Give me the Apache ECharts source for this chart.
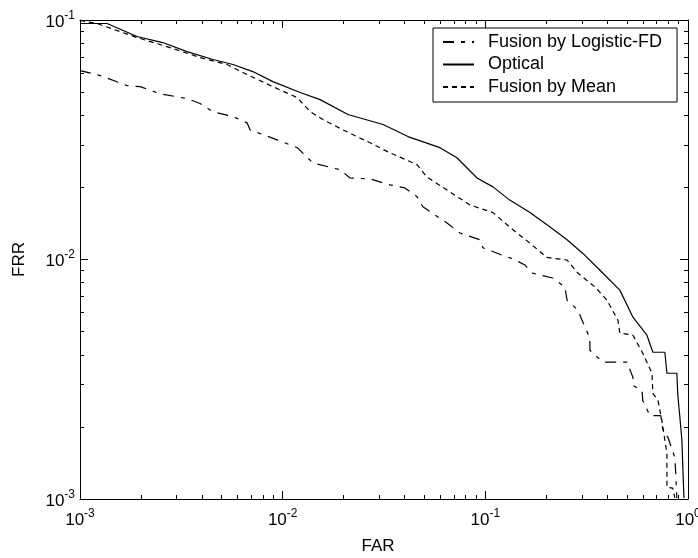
<!DOCTYPE html>
<html>
<head>
<meta charset="utf-8">
<script src="https://cdn.jsdelivr.net/npm/echarts@6/dist/echarts.min.js"></script>
<style>
html,body{margin:0;padding:0;background:#fff;}
#chart{width:698px;height:558px;}
</style>
</head>
<body>
<div id="chart"></div>
<script>
// ---- data ----
const seriesNames = ['Fusion by Logistic-FD', 'Optical', 'Fusion by Mean'];

const opticalFAR = [0.001, 0.00136, 0.00191, 0.00256, 0.00337, 0.00453, 0.00569, 0.00712, 0.00895, 0.0122, 0.0153, 0.0210, 0.0313, 0.0415, 0.0597, 0.0724, 0.0910, 0.109, 0.132, 0.166, 0.208, 0.253, 0.303, 0.367, 0.461, 0.535, 0.627, 0.671, 0.769, 0.787, 0.881, 0.891, 0.912, 0.933, 0.944, 0.955];
const opticalFRR = [0.0967, 0.0967, 0.0853, 0.0805, 0.0738, 0.0684, 0.0652, 0.0609, 0.0553, 0.0498, 0.0465, 0.0403, 0.0366, 0.0326, 0.0293, 0.0266, 0.0219, 0.0201, 0.0177, 0.0157, 0.0137, 0.0121, 0.0106, 0.00904, 0.00745, 0.00574, 0.00483, 0.00410, 0.00410, 0.00335, 0.00335, 0.00271, 0.00219, 0.00176, 0.00132, 0.00101];

const meanFAR = [0.001, 0.00121, 0.00191, 0.00278, 0.00391, 0.00531, 0.00667, 0.00895, 0.0118, 0.0137, 0.0158, 0.0198, 0.0270, 0.0338, 0.0460, 0.0515, 0.0647, 0.0839, 0.109, 0.137, 0.166, 0.201, 0.253, 0.286, 0.348, 0.398, 0.451, 0.461, 0.535, 0.598, 0.664, 0.671, 0.711, 0.743, 0.787, 0.787, 0.841, 0.861];
const meanFRR = [0.0995, 0.0967, 0.0845, 0.0767, 0.0697, 0.0652, 0.0592, 0.0527, 0.0474, 0.0414, 0.0384, 0.0348, 0.0307, 0.0279, 0.0249, 0.0221, 0.0195, 0.0169, 0.0157, 0.0133, 0.0117, 0.0102, 0.00995, 0.00878, 0.00767, 0.00677, 0.00558, 0.00493, 0.00483, 0.00406, 0.00335, 0.00276, 0.00258, 0.00213, 0.00155, 0.00112, 0.00111, 0.00101];

const logisticFAR = [0.001, 0.00126, 0.00171, 0.00198, 0.00248, 0.00337, 0.00391, 0.00453, 0.00569, 0.00667, 0.00690, 0.00938, 0.0118, 0.0141, 0.0192, 0.0215, 0.0270, 0.0338, 0.0401, 0.0460, 0.0492, 0.0647, 0.0750, 0.0940, 0.0973, 0.122, 0.137, 0.157, 0.170, 0.215, 0.247, 0.253, 0.286, 0.303, 0.328, 0.328, 0.380, 0.500, 0.535, 0.535, 0.593, 0.598, 0.649, 0.734, 0.752, 0.796, 0.861, 0.871, 0.881];
const logisticFRR = [0.0615, 0.0586, 0.0532, 0.0527, 0.0492, 0.0470, 0.0448, 0.0414, 0.0395, 0.0372, 0.0348, 0.0316, 0.0293, 0.0253, 0.0237, 0.0219, 0.0217, 0.0205, 0.0199, 0.0183, 0.0166, 0.0142, 0.0129, 0.0121, 0.0112, 0.0104, 0.01005, 0.00948, 0.00878, 0.00837, 0.00767, 0.00677, 0.00615, 0.00547, 0.00470, 0.00418, 0.00373, 0.00373, 0.00322, 0.00298, 0.00284, 0.00258, 0.00223, 0.00223, 0.00193, 0.00181, 0.00149, 0.00125, 0.00101];

const xTickValues = [0.001, 0.01, 0.1, 1];
const xTickExponents = ['-3', '-2', '-1', '0'];
const yTickValues = [0.001, 0.01, 0.1];
const yTickExponents = ['-3', '-2', '-1'];
const xName = 'FAR';
const yName = 'FRR';

// ---- helpers ----
function pairs(xs, ys) { return xs.map((x, i) => [x, ys[i]]); }
function minorValues(majors) {
  const out = [];
  for (let i = 0; i < majors.length - 1; i++) {
    for (let m = 2; m <= 9; m++) out.push(majors[i] * m);
  }
  return out;
}
function labelFor(values, exps) {
  return function (v) {
    let best = 0, bd = Infinity;
    values.forEach((t, i) => { const d = Math.abs(Math.log10(v) - Math.log10(t)); if (d < bd) { bd = d; best = i; } });
    return '{b|10}{s|' + exps[best] + '}';
  };
}
const FONT = 'Liberation Sans, Arial, sans-serif';
const rich = {
  b: { fontSize: 17, fontFamily: FONT, color: '#000', lineHeight: 21, verticalAlign: 'bottom' },
  s: { fontSize: 12, fontFamily: FONT, color: '#000', lineHeight: 21, verticalAlign: 'top' }
};
const axisCol = '#000';
const xMinor = minorValues(xTickValues);
const yMinor = minorValues(yTickValues);
const xMin = xTickValues[0], xMax = xTickValues[xTickValues.length - 1];
const yMin = yTickValues[0], yMax = yTickValues[yTickValues.length - 1];

function xAx(position, major, showLine, withLabel) {
  return {
    type: 'log', logBase: 10, min: xMin, max: xMax, position: position,
    axisLine: { show: showLine, onZero: false, lineStyle: { color: axisCol, width: 1 } },
    axisTick: { show: true, inside: true, length: major ? 8 : 4, customValues: major ? xTickValues : xMinor, lineStyle: { color: axisCol, width: 1 } },
    axisLabel: withLabel ? { show: true, customValues: xTickValues, formatter: labelFor(xTickValues, xTickExponents), rich: rich, margin: 9, color: '#000' } : { show: false },
    splitLine: { show: false },
    minorTick: { show: false },
    name: withLabel ? xName : '',
    nameLocation: 'middle', nameGap: 39,
    nameTextStyle: { fontSize: 17, fontFamily: FONT, color: '#000', padding: [0, 12, 0, 0] }
  };
}
function yAx(position, major, showLine, withLabel) {
  return {
    type: 'log', logBase: 10, min: yMin, max: yMax, position: position,
    axisLine: { show: showLine, onZero: false, lineStyle: { color: axisCol, width: 1 } },
    axisTick: { show: true, inside: true, length: major ? 8 : 4, customValues: major ? yTickValues : yMinor, lineStyle: { color: axisCol, width: 1 } },
    axisLabel: withLabel ? { show: true, customValues: yTickValues, formatter: labelFor(yTickValues, yTickExponents), rich: rich, margin: 5, color: '#000' } : { show: false },
    splitLine: { show: false },
    minorTick: { show: false },
    name: withLabel ? yName : '',
    nameLocation: 'middle', nameGap: 52, nameRotate: 90,
    nameTextStyle: { fontSize: 17, fontFamily: FONT, color: '#000' }
  };
}

const chart = echarts.init(document.getElementById('chart'), null, { renderer: 'canvas' });
const lineBase = { type: 'line', xAxisIndex: 0, yAxisIndex: 0, symbol: 'none', showSymbol: false, animation: false, clip: true, z: 3 };
chart.setOption({
  animation: false,
  backgroundColor: '#fff',
  grid: { left: 80, right: 10, top: 20, bottom: 59, containLabel: false, outerBoundsMode: 'none' },
  xAxis: [xAx('bottom', true, true, true), xAx('bottom', false, false, false), xAx('top', true, true, false), xAx('top', false, false, false)],
  yAxis: [yAx('left', true, true, true), yAx('left', false, false, false), yAx('right', true, true, false), yAx('right', false, false, false)],
  legend: {
    data: seriesNames,
    orient: 'vertical', left: 433, top: 28,
    itemWidth: 31, itemHeight: 14, itemGap: 4.5,
    padding: [5, 15, 6, 9],
    borderColor: '#000', borderWidth: 1, backgroundColor: '#fff',
    itemStyle: { opacity: 0, borderWidth: 0 },
    textStyle: { fontSize: 18, lineHeight: 18, fontFamily: FONT, color: '#000', padding: [0, 0, 0, 9] }
  },
  series: [
    Object.assign({}, lineBase, { name: seriesNames[0], data: pairs(logisticFAR, logisticFRR), lineStyle: { color: '#000', width: 1.2, type: [11, 7, 4, 7] }, itemStyle: { color: '#000' } }),
    Object.assign({}, lineBase, { name: seriesNames[1], data: pairs(opticalFAR, opticalFRR), lineStyle: { color: '#000', width: 1.2, type: 'solid' }, itemStyle: { color: '#000' } }),
    Object.assign({}, lineBase, { name: seriesNames[2], data: pairs(meanFAR, meanFRR), lineStyle: { color: '#000', width: 1.2, type: [5, 4] }, itemStyle: { color: '#000' } })
  ]
});
</script>
</body>
</html>
